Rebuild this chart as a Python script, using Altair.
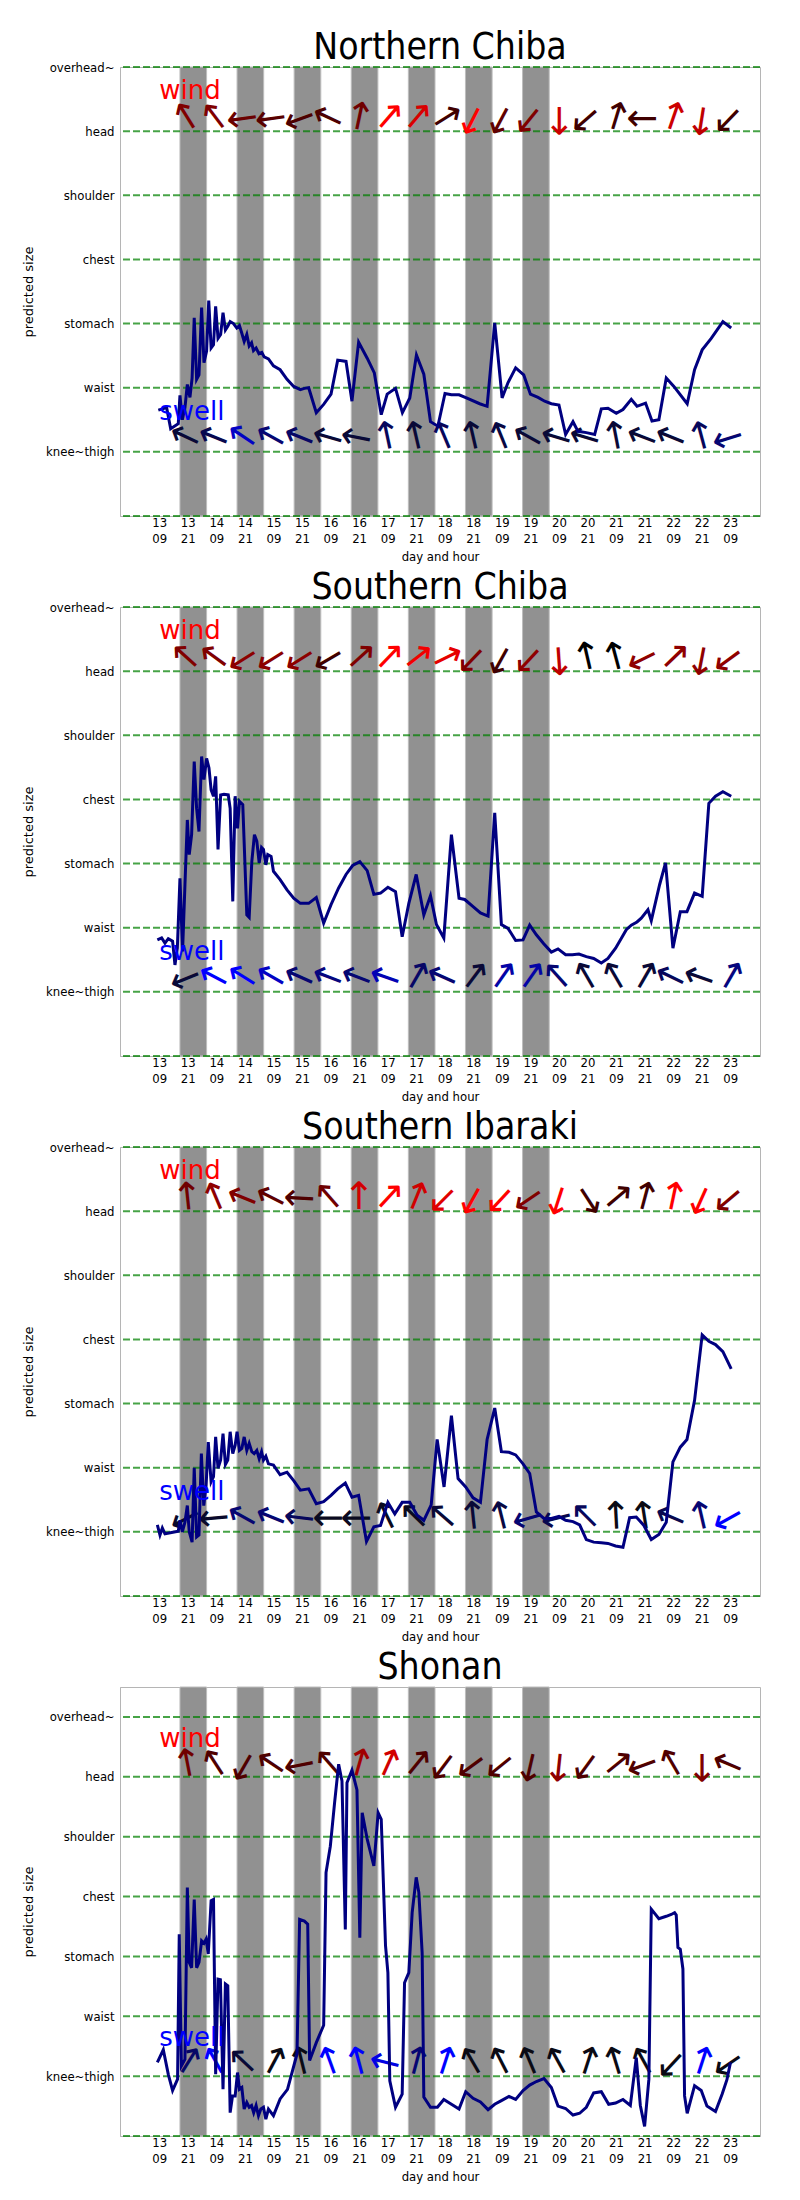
import json
import altair as alt
import pandas as pd

REGIONS = ["Northern Chiba", "Southern Chiba", "Southern Ibaraki", "Shonan"]
SIZE_LABELS = ["knee~thigh", "waist", "stomach", "chest", "shoulder", "head", "overhead~"]
SIZE_LEVELS = [1, 2, 3, 4, 5, 6, 7]
GRID_LEVELS = [0, 1, 2, 3, 4, 5, 6, 7]
Y_MAX = [7, 7, 7, 7.5]
X_DOMAIN = [-16.5, 252.5]
TICK_HOURS = [0, 12, 24, 36, 48, 60, 72, 84, 96, 108, 120, 132, 144, 156, 168, 180, 192, 204, 216, 228, 240]
TICK_LABELS = [["13", "09"], ["13", "21"], ["14", "09"], ["14", "21"], ["15", "09"], ["15", "21"],
               ["16", "09"], ["16", "21"], ["17", "09"], ["17", "21"], ["18", "09"], ["18", "21"],
               ["19", "09"], ["19", "21"], ["20", "09"], ["20", "21"], ["21", "09"], ["21", "21"],
               ["22", "09"], ["22", "21"], ["23", "09"]]
NIGHT_START = [8.7, 32.7, 56.7, 80.7, 104.7, 128.7, 152.7]
NIGHT_END = [19.9, 43.9, 67.9, 91.9, 115.9, 139.9, 163.9]
ARROW_HOURS = [12, 24, 36, 48, 60, 72, 84, 96, 108, 120, 132, 144, 156, 168, 180, 192, 204, 216, 228, 240]
WIND_LEVEL = 6.2
SWELL_LEVEL = 1.22
LABEL_HOUR = 0
WIND_LABEL_LEVEL = 6.5
SWELL_LABEL_LEVEL = 1.5

# predicted size (hour since 13 09, size level)
N_CHIBA_LINE = [(-0.4,1.65),(3.1,1.69),(4.8,1.36),(8,1.44),(8.7,1.88),(9.7,1.5),(10.8,1.69),(11.8,2.05),(12.9,1.85),(13.8,2.15),(14.7,3.09),(15.7,2.13),(16.7,2.2),(17.8,3.25),(18.8,2.39),(19.9,2.57),(20.8,3.36),(21.8,2.62),(22.8,2.67),(23.7,3.27),(24.7,2.77),(25.8,2.83),(26.8,3.17),(27.8,2.9),(28.8,2.96),(29.8,3.03),(31.2,3.0),(32.6,2.93),(33.7,2.97),(34.7,2.85),(35.7,2.72),(36.8,2.83),(37.8,2.65),(38.8,2.7),(39.6,2.58),(40.7,2.62),(41.9,2.53),(43.1,2.55),(44.1,2.48),(45.9,2.45),(48,2.34),(50.8,2.28),(53.7,2.13),(56.5,2.02),(59.3,1.97),(61,1.99),(62.8,2.0),(66,1.61),(69.1,1.74),(72.2,1.9),(75,2.43),(78.5,2.41),(81,1.79),(83.8,2.71),(87.4,2.46),(90.4,2.23),(93.3,1.58),(95.8,1.9),(99.3,1.99),(102.2,1.61),(105.3,1.84),(108.1,2.51),(111.2,2.21),(114,1.47),(117.1,1.4),(120.1,1.91),(122.8,1.89),(126,1.89),(129.1,1.84),(134.7,1.75),(137.8,1.71),(141,3.01),(144.1,1.84),(146.6,2.08),(149.8,2.31),(153.2,2.2),(156,1.9),(159.2,1.85),(162,1.79),(164.8,1.75),(168,1.73),(170.8,1.27),(173.9,1.47),(176,1.32),(179.5,1.30),(183,1.27),(185.8,1.67),(188.6,1.68),(192.1,1.6),(194.9,1.66),(198.4,1.82),(200.8,1.71),(204.4,1.76),(207.1,1.48),(210,1.5),(213.1,2.15),(216.3,2.02),(221.9,1.75),(225,2.28),(228.2,2.59),(232,2.77),(236.9,3.03),(240.4,2.93)]
S_CHIBA_LINE = [(-0.8,1.81),(1,1.84),(2.4,1.76),(3.8,1.83),(5.6,1.79),(6.6,1.42),(7.6,1.68),(8.7,2.77),(9.8,1.63),(10.8,2.67),(11.8,3.68),(12.6,3.14),(13.6,3.45),(14.7,4.59),(15.7,3.86),(16.7,3.5),(17.8,4.67),(18.8,4.31),(19.9,4.64),(20.9,4.49),(21.8,4.15),(22.8,4.05),(23.7,4.36),(24.7,3.22),(25.8,4.07),(27.2,4.08),(29,4.07),(29.8,3.86),(30.9,2.41),(31.9,4.05),(32.9,3.55),(33.7,3.97),(35.1,3.92),(36.8,2.2),(37.8,2.16),(38.9,3.03),(40,3.45),(41,3.35),(42,3.01),(43,3.25),(43.8,3.22),(44.8,2.98),(45.6,3.14),(47,3.11),(48,2.88),(50.8,2.75),(53.7,2.59),(56.5,2.46),(59.3,2.38),(62.8,2.38),(66,2.47),(69.1,2.07),(72.2,2.36),(75.4,2.62),(78.5,2.83),(81.3,2.97),(84.3,3.03),(87.4,2.89),(90.2,2.52),(93,2.54),(96.1,2.63),(99.3,2.56),(102.1,1.86),(104.9,2.38),(108,2.83),(111.2,2.2),(114,2.5),(116.5,2.05),(119.6,1.84),(122.8,3.45),(126,2.46),(128.4,2.44),(131.9,2.33),(135,2.23),(138.2,2.18),(141,3.79),(143.8,2.05),(146.6,1.99),(149.8,1.80),(152.9,1.81),(155.7,2.04),(158.5,1.89),(161.6,1.75),(164.8,1.62),(167.6,1.67),(170.8,1.58),(173.6,1.58),(176.4,1.59),(179.5,1.55),(182.6,1.52),(185.8,1.45),(188.6,1.52),(191.8,1.68),(194.6,1.86),(196.3,1.97),(198.4,2.04),(200.8,2.09),(202.6,2.15),(205.4,2.28),(206.8,2.11),(210.3,2.67),(212.8,3.01),(215.9,1.68),(219,2.25),(221.8,2.25),(225,2.54),(228.2,2.49),(231,3.94),(233.8,4.05),(236.9,4.12),(240.4,4.05)]
S_IBARAKI_LINE = [(-0.8,1.11),(0.3,0.95),(1.3,1.06),(2.4,0.97),(5.2,0.99),(8,1.01),(8.7,1.18),(9.7,1.0),(10.8,1.15),(11.8,1.41),(12.6,1.0),(13.8,0.84),(14.7,2.0),(15.7,0.92),(16.7,0.95),(17.7,2.22),(18.7,1.41),(19.7,1.73),(20.6,2.4),(21.8,1.78),(22.8,1.86),(23.7,2.48),(24.7,1.99),(25.8,2.12),(26.8,2.53),(27.8,2.05),(28.8,2.12),(29.8,2.56),(30.9,2.22),(31.9,2.35),(32.7,2.56),(33.7,2.27),(34.7,2.3),(35.7,2.48),(36.8,2.27),(37.8,2.38),(38.9,2.25),(39.9,2.22),(41,2.27),(42,2.14),(43,2.25),(43.8,2.12),(44.8,2.18),(45.9,2.06),(48,2.04),(50.8,1.89),(53.7,1.93),(56.5,1.8),(59.3,1.65),(62.8,1.67),(66,1.44),(69.1,1.47),(72.2,1.57),(75,1.67),(78.2,1.76),(81,1.54),(83.8,1.57),(87.1,0.85),(90.2,1.08),(93,1.1),(96.1,1.46),(99,1.28),(102.1,1.46),(105.3,1.46),(108.4,1.26),(111.2,1.18),(114.3,1.42),(116.8,2.44),(119.7,1.7),(122.8,2.81),(125.6,1.83),(128.8,1.7),(131.9,1.53),(135,1.46),(137.8,2.44),(141,2.93),(143.8,2.25),(147,2.24),(149.8,2.2),(152.9,2.06),(155.7,1.91),(158.5,1.31),(161.7,1.21),(164.8,1.21),(168,1.24),(170.8,1.18),(173.9,1.16),(176.7,1.11),(179.5,0.88),(182.6,0.84),(185.8,0.83),(188.6,0.82),(191.8,0.78),(194.9,0.76),(197.7,1.22),(200.5,1.23),(203.7,1.1),(206.8,0.88),(210,0.96),(213.1,1.15),(215.9,2.09),(219,2.32),(221.8,2.44),(225,3.05),(228.2,4.07),(231,3.97),(233.8,3.92),(236.9,3.81),(240.4,3.54)]
SHONAN_LINE = [(-0.8,1.23),(1.7,1.44),(3.8,1.03),(5.6,0.76),(7.7,0.95),(8.4,3.37),(9.3,1.17),(10.8,1.28),(11.8,4.15),(12.6,2.9),(13.6,2.81),(14.7,3.95),(15.7,2.81),(16.7,2.9),(17.8,3.26),(18.8,3.22),(19.7,3.29),(20.6,3.04),(21.8,3.93),(22.8,3.95),(23.7,1.03),(24.7,2.62),(25.7,2.61),(26.8,0.78),(27.8,2.54),(28.8,2.51),(29.8,0.39),(30.8,0.67),(31.9,0.67),(32.9,1.06),(33.7,0.78),(34.7,0.81),(35.7,0.45),(36.8,0.56),(37.8,0.48),(38.8,0.51),(39.7,0.39),(40.7,0.51),(41.7,0.34),(42.7,0.45),(43.8,0.48),(44.8,0.28),(45.9,0.45),(48,0.34),(50.8,0.62),(53.9,0.78),(57.9,1.37),(59,3.62),(61,3.59),(62.4,3.54),(63.2,1.26),(66,1.56),(69.1,1.85),(70.1,4.4),(71.9,4.84),(73.7,5.57),(75.4,6.21),(76.8,5.93),(78.2,3.45),(78.9,5.9),(81,6.11),(83.1,5.78),(84.3,3.31),(85.3,5.4),(87.4,4.96),(90.2,4.51),(92,5.4),(93.3,5.29),(95.1,3.18),(96.1,2.73),(96.9,0.92),(99.3,0.48),(102.1,0.7),(103.1,2.56),(104.9,2.73),(106.3,3.73),(108,4.32),(109.1,4.07),(110.5,3.06),(111.2,0.65),(114,0.48),(116.9,0.48),(119.6,0.61),(122.8,0.53),(126,0.45),(128.8,0.74),(131.9,0.63),(135,0.57),(138.2,0.44),(141,0.53),(143.8,0.59),(147,0.66),(149.8,0.61),(152.9,0.76),(155.7,0.85),(158.5,0.91),(161.7,0.96),(164.8,0.81),(167.6,0.5),(170.8,0.46),(173.9,0.35),(176.7,0.38),(179.5,0.48),(182.6,0.72),(185.8,0.74),(188.9,0.53),(191.8,0.55),(194.9,0.61),(198,0.51),(200.5,1.31),(202.2,0.51),(204,0.16),(205.8,0.95),(206.8,3.79),(210,3.63),(213.1,3.67),(215.2,3.7),(216.6,3.73),(217.3,3.69),(218,3.15),(219,3.12),(220.1,2.79),(220.8,0.67),(221.9,0.38),(225,0.84),(227.8,0.76),(230.2,0.5),(233.8,0.41),(236.6,0.7),(238.6,0.94),(240.1,1.23)]

# arrow directions (degrees clockwise from up, as drawn) and strength 0..1
N_CHIBA_WIND_DIR = [328, 323, 262, 262, 250, 295, 12, 41, 40, 58, 207, 208, 219, 180, 229, 17, 270, 19, 189, 224]
N_CHIBA_WIND_STR = [0.5, 0.5, 0.42, 0.35, 0.3, 0.3, 0.44, 1.0, 0.85, 0.25, 1.0, 0.38, 0.5, 0.8, 0.25, 0.25, 0.25, 0.8, 0.75, 0.25]
N_CHIBA_SWELL_DIR = [295, 292, 304, 299, 292, 286, 281, 348, 347, 337, 347, 338, 299, 287, 287, 349, 291, 292, 345, 253]
N_CHIBA_SWELL_STR = [0.15, 0.25, 0.75, 0.4, 0.35, 0.15, 0.15, 0.3, 0.15, 0.3, 0.15, 0.2, 0.15, 0.15, 0.15, 0.15, 0.15, 0.15, 0.3, 0.4]
S_CHIBA_WIND_DIR = [312, 306, 238, 238, 238, 240, 48, 44, 52, 64, 224, 209, 223, 176, 347, 345, 244, 46, 191, 234]
S_CHIBA_WIND_STR = [0.5, 0.5, 0.55, 0.55, 0.55, 0.25, 0.5, 1.0, 0.95, 0.9, 0.5, 0.25, 0.56, 0.75, 0.0, 0.0, 0.56, 0.56, 0.56, 0.56]
S_CHIBA_SWELL_DIR = [248, 298, 302, 300, 294, 291, 291, 289, 30, 294, 37, 35, 35, 318, 330, 330, 30, 296, 289, 30]
S_CHIBA_SWELL_STR = [0.15, 1.0, 1.0, 0.75, 0.4, 0.45, 0.4, 0.68, 0.35, 0.4, 0.15, 0.62, 0.62, 0.4, 0.15, 0.15, 0.15, 0.3, 0.15, 0.45]
S_IBARAKI_WIND_DIR = [354, 337, 292, 297, 273, 319, 0, 43, 22, 225, 209, 223, 236, 198, 147, 50, 15, 12, 204, 230]
S_IBARAKI_WIND_STR = [0.44, 0.56, 0.5, 0.38, 0.31, 0.44, 0.82, 1.0, 0.82, 0.88, 1.0, 1.0, 0.5, 1.0, 0.25, 0.25, 0.25, 1.0, 1.0, 0.5]
S_IBARAKI_SWELL_DIR = [243, 265, 299, 292, 277, 270, 270, 334, 314, 311, 354, 346, 254, 256, 315, 357, 351, 293, 347, 241]
S_IBARAKI_SWELL_STR = [0.1, 0.1, 0.4, 0.4, 0.3, 0.05, 0.05, 0.05, 0.05, 0.15, 0.15, 0.2, 0.4, 0.25, 0.3, 0.0, 0.0, 0.25, 0.4, 1.0]
SHONAN_WIND_DIR = [349, 327, 210, 304, 259, 319, 16, 24, 39, 217, 234, 231, 193, 186, 216, 51, 250, 330, 180, 293]
SHONAN_WIND_STR = [0.44, 0.31, 0.31, 0.31, 0.31, 0.31, 0.63, 0.82, 0.31, 0.31, 0.31, 0.31, 0.31, 0.56, 0.31, 0.31, 0.31, 0.31, 0.5, 0.31]
SHONAN_SWELL_DIR = [32, 331, 313, 28, 346, 340, 345, 284, 15, 18, 330, 333, 337, 331, 18, 343, 331, 223, 18, 236]
SHONAN_SWELL_STR = [0.35, 1.0, 0.15, 0.0, 0.0, 1.0, 1.0, 0.88, 0.4, 1.0, 0.0, 0.0, 0.0, 0.0, 0.0, 0.0, 0.0, 0.0, 1.0, 0.0]

LINES = [N_CHIBA_LINE, S_CHIBA_LINE, S_IBARAKI_LINE, SHONAN_LINE]
WIND_DIR = [N_CHIBA_WIND_DIR, S_CHIBA_WIND_DIR, S_IBARAKI_WIND_DIR, SHONAN_WIND_DIR]
WIND_STR = [N_CHIBA_WIND_STR, S_CHIBA_WIND_STR, S_IBARAKI_WIND_STR, SHONAN_WIND_STR]
SWELL_DIR = [N_CHIBA_SWELL_DIR, S_CHIBA_SWELL_DIR, S_IBARAKI_SWELL_DIR, SHONAN_SWELL_DIR]
SWELL_STR = [N_CHIBA_SWELL_STR, S_CHIBA_SWELL_STR, S_IBARAKI_SWELL_STR, SHONAN_SWELL_STR]

FONT = "DejaVu Sans Condensed, DejaVu Sans"
W, H = 640, 449
ARROW_SIZE = 38
TITLE_GAP = 8

x_label_expr = json.dumps(TICK_LABELS) + "[round(datum.value / 12)]"
y_label_expr = json.dumps(SIZE_LABELS) + "[round(datum.value) - 1]"


def panel(i):
    xs = alt.Scale(domain=X_DOMAIN, nice=False, zero=False)
    ys = alt.Scale(domain=[0, Y_MAX[i]], nice=False, zero=False)
    xaxis = alt.Axis(values=TICK_HOURS, labelExpr=x_label_expr, title="day and hour",
                     ticks=False, tickSize=0, labelPadding=0, labelLineHeight=16,
                     titleY=40, titleBaseline="middle", grid=False, labelFlush=False)
    yaxis = alt.Axis(values=SIZE_LEVELS, labelExpr=y_label_expr, title="predicted size",
                     ticks=False, tickSize=0, labelPadding=6, grid=False,
                     titleX=-92, titleY=H / 2, titleBaseline="middle", titleAlign="center",
                     titleAngle=270, titleFont="DejaVu Sans", labelFlush=False)

    def X(field=None, **kw):
        if field is None:
            return alt.X(scale=xs, axis=xaxis, type="quantitative", **kw)
        return alt.X(field, type="quantitative", scale=xs, axis=xaxis)

    def Y(field=None, **kw):
        if field is None:
            return alt.Y(scale=ys, axis=yaxis, type="quantitative", **kw)
        return alt.Y(field, type="quantitative", scale=ys, axis=yaxis)

    nights = pd.DataFrame({"start": NIGHT_START, "end": NIGHT_END})
    bands = alt.Chart(nights).mark_rect(color="#919191", stroke="#bdbdbd", strokeWidth=1).encode(
        x=X("start"), x2="end", y=Y(datum=0), y2=alt.Y2(datum=Y_MAX[i]))

    grid = alt.Chart(pd.DataFrame({"lv": GRID_LEVELS})).mark_rule(
        color="#008000", opacity=0.72, strokeWidth=2, strokeDash=[7, 3]).encode(y=Y("lv"))

    line_df = pd.DataFrame(LINES[i], columns=["h", "v"])
    line = alt.Chart(line_df).mark_line(color="#000080", strokeWidth=3).encode(
        x=X("h"), y=Y("v"), order="h:Q")

    wind_df = pd.DataFrame({"h": ARROW_HOURS, "d": WIND_DIR[i], "s": WIND_STR[i]})
    wind = alt.Chart(wind_df).mark_text(text="\u2191", font="DejaVu Sans", fontSize=ARROW_SIZE,
                                        align="center", baseline="middle").encode(
        x=X("h"), y=Y(datum=WIND_LEVEL), angle=alt.Angle("d:Q", scale=None),
        color=alt.Color("s:Q", scale=alt.Scale(domain=[0, 1], range=["#000000", "#ff0000"], interpolate="rgb"),
                        legend=None))

    swell_df = pd.DataFrame({"h": ARROW_HOURS, "d": SWELL_DIR[i], "s": SWELL_STR[i]})
    swell = alt.Chart(swell_df).mark_text(text="\u2191", font="DejaVu Sans", fontSize=ARROW_SIZE,
                                          align="center", baseline="middle").encode(
        x=X("h"), y=Y(datum=SWELL_LEVEL), angle=alt.Angle("d:Q", scale=None),
        color=alt.Color("s:Q", scale=alt.Scale(domain=[0, 1], range=["#0a0a14", "#0000ff"], interpolate="rgb"),
                        legend=None))

    wlabel = alt.Chart(pd.DataFrame({"t": ["wind"]})).mark_text(
        color="#ff0000", fontSize=26, font="DejaVu Sans", align="left", baseline="alphabetic").encode(
        x=X(datum=LABEL_HOUR), y=Y(datum=WIND_LABEL_LEVEL), text="t:N")
    slabel = alt.Chart(pd.DataFrame({"t": ["swell"]})).mark_text(
        color="#0000ff", fontSize=26, font="DejaVu Sans", align="left", baseline="alphabetic").encode(
        x=X(datum=LABEL_HOUR), y=Y(datum=SWELL_LABEL_LEVEL), text="t:N")

    title = alt.Chart(pd.DataFrame({"t": [REGIONS[i]]})).mark_text(
        color="black", fontSize=37, font=FONT, align="center", baseline="alphabetic").encode(
        x=alt.value(W / 2), y=alt.value(-TITLE_GAP), text="t:N")

    return alt.layer(bands, grid, wind, swell, line, wlabel, slabel, title).resolve_scale(
        color="independent").properties(width=W, height=H)


chart = alt.vconcat(*[panel(i) for i in range(4)], spacing=91, bounds="flush").properties(
    padding={"left": 13, "top": 20, "right": 5, "bottom": 5}
).configure_view(stroke="#b5b5b5", strokeWidth=1).configure_axis(
    labelFont=FONT, labelFontSize=13, labelColor="black", titleFont=FONT, titleFontSize=13,
    titleFontWeight="normal", titleColor="black", domainColor="#b5b5b5"
)

chart.save("out.html", embed_options={"renderer": "svg", "actions": False})
